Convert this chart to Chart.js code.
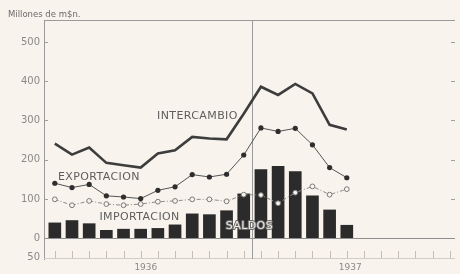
<!DOCTYPE html>
<html><head><meta charset="utf-8">
<script src="https://cdn.jsdelivr.net/npm/chart.js@4"></script>
<style>html,body{margin:0;padding:0;background:#f8f3ec;}#w{width:460px;height:274px;position:relative}</style>
</head><body><div id="w"><canvas id="c"></canvas></div>
<script>
// Data (millones de m$n), enero 1936 - junio 1937
const months = ['Ene 36','Feb 36','Mar 36','Abr 36','May 36','Jun 36','Jul 36','Ago 36','Sep 36','Oct 36','Nov 36','Dic 36','Ene 37','Feb 37','Mar 37','Abr 37','May 37','Jun 37'];
const years = ['1936','1937'];
const intercambio = [241, 213, 231, 192, 186, 180, 216, 224, 258, 254, 252, 317, 386, 365, 393, 369, 289, 277];
const exportacion = [140, 129, 137, 108, 105, 101, 122, 131, 162, 156, 163, 212, 281, 272, 280, 238, 180, 154];
const importacion = [99, 84, 95, 87, 84, 87, 93, 95, 99, 99, 94, 111, 110, 89, 116, 132, 111, 125];
const saldos = [39, 45, 37, 20, 23, 23, 25, 34, 62, 60, 70, 113, 175, 183, 170, 108, 72, 33];
const yTicks = [-50, 0, 100, 200, 300, 400, 500];
const seriesNames = ['INTERCAMBIO', 'EXPORTACION', 'IMPORTACION', 'SALDOS'];
const unitTitle = 'Millones de m$n.';

const pts = arr => arr.map((v, i) => ({x: i, y: v}));
const BG = '#f8f3ec';
const FONT = '"DejaVu Sans", sans-serif';

const decor = {
  id: 'decor',
  beforeDraw(chart) {
    const c = chart.ctx;
    c.save(); c.fillStyle = BG; c.fillRect(0, 0, chart.width, chart.height); c.restore();
  },
  beforeDatasetsDraw(chart) {
    const c = chart.ctx, a = chart.chartArea, x = chart.scales.x, y = chart.scales.y;
    c.save();
    c.strokeStyle = '#9a9a9a'; c.lineWidth = 1;
    c.beginPath(); c.moveTo(a.left, a.top + 0.5); c.lineTo(a.right, a.top + 0.5); c.stroke();
    c.strokeStyle = '#d2cdc5';
    c.beginPath(); c.moveTo(a.left, a.bottom - 0.5); c.lineTo(a.right, a.bottom - 0.5); c.stroke();
    c.strokeStyle = '#9a9a9a';
    const xd = Math.round(x.getPixelForValue(11.5)) + 0.5;
    c.beginPath(); c.moveTo(xd, a.top); c.lineTo(xd, a.bottom); c.stroke();
    c.strokeStyle = '#a0a0a0';
    yTicks.forEach(v => {
      if (v <= 0) return;
      const py = Math.round(y.getPixelForValue(v)) + 0.5;
      c.beginPath(); c.moveTo(a.left, py); c.lineTo(a.left + 4, py); c.stroke();
      c.beginPath(); c.moveTo(a.right - 4, py); c.lineTo(a.right, py); c.stroke();
    });
    c.strokeStyle = '#c4beb6';
    for (let i = 0; i < 24; i++) {
      const px = Math.round(x.getPixelForValue(i)) + 0.5;
      c.beginPath(); c.moveTo(px, a.bottom - 1); c.lineTo(px, a.bottom - 8); c.stroke();
    }
    c.restore();
  },
  afterDraw(chart) {
    const c = chart.ctx, a = chart.chartArea, x = chart.scales.x, y = chart.scales.y;
    c.save();
    c.font = '8.5px ' + FONT; c.fillStyle = '#6a6a6a'; c.textBaseline = 'middle'; c.textAlign = 'left';
    c.fillText(unitTitle, 8, 15);
    c.font = '9px ' + FONT; c.fillStyle = '#8a8a8a'; c.textAlign = 'center';
    c.fillText(years[0], x.getPixelForValue(5.3), 268);
    c.fillText(years[1], x.getPixelForValue(17.2), 268);
    c.font = '11px ' + FONT; c.textAlign = 'left'; c.textBaseline = 'middle';
    c.letterSpacing = '0.4px';
    const lab = [
      [seriesNames[0], 5.95, 311],
      [seriesNames[1], 0.18, 156],
      [seriesNames[2], 2.6, 54]
    ];
    c.fillStyle = '#5e5e5e';
    lab.forEach(([t, lx, ly]) => c.fillText(t, x.getPixelForValue(lx), y.getPixelForValue(ly)));
    const sx = x.getPixelForValue(9.95), sy = y.getPixelForValue(32);
    c.lineWidth = 2; c.strokeStyle = '#6a6a6a'; c.lineJoin = 'round';
    c.strokeText(seriesNames[3], sx, sy);
    c.fillStyle = '#ece8e0';
    c.fillText(seriesNames[3], sx, sy);
    c.restore();
  }
};

new Chart(document.getElementById('c'), {
  type: 'bar',
  data: {
    datasets: [
      { type: 'line', label: seriesNames[0], data: pts(intercambio), borderColor: '#3d3d3d', borderWidth: 2.6,
        pointRadius: 0, tension: 0, order: 1 },
      { type: 'line', label: seriesNames[1], data: pts(exportacion), borderColor: '#555', borderWidth: 1,
        pointRadius: 2.6, pointBackgroundColor: '#2e2e2e', pointBorderColor: '#2e2e2e', pointBorderWidth: 0, tension: 0, order: 2 },
      { type: 'line', label: seriesNames[2], data: pts(importacion), borderColor: '#8c8c8c', borderWidth: 1,
        borderDash: [4, 2, 1, 2], pointRadius: 2.4, pointBackgroundColor: BG, pointBorderColor: '#7a7a7a',
        pointBorderWidth: 1, tension: 0, order: 3 },
      { type: 'bar', label: seriesNames[3], data: pts(saldos), backgroundColor: '#2b2b2b', barThickness: 12, order: 4 }
    ]
  },
  options: {
    responsive: true, maintainAspectRatio: false, animation: false,
    layout: { padding: { top: 20, bottom: 15, left: 0, right: 0 } },
    plugins: { legend: { display: false }, tooltip: { enabled: false }, title: { display: false } },
    scales: {
      x: { type: 'linear', min: -0.63, max: 23.3, offset: false, display: false },
      y: {
        min: -53, max: 556,
        afterBuildTicks: s => { s.ticks = yTicks.map(v => ({ value: v })); },
        afterFit: s => { s.width = 44; },
        ticks: { callback: v => String(Math.abs(v)), color: '#8a8a8a', font: { family: FONT, size: 10 }, padding: 4 },
        grid: { drawTicks: false, color: ctx => (ctx.tick && ctx.tick.value === 0) ? '#8f8f8f' : 'rgba(0,0,0,0)', lineWidth: 1 },
        border: { color: '#9a9a9a', width: 1 }
      }
    }
  },
  plugins: [decor]
});
</script>
</body></html>
